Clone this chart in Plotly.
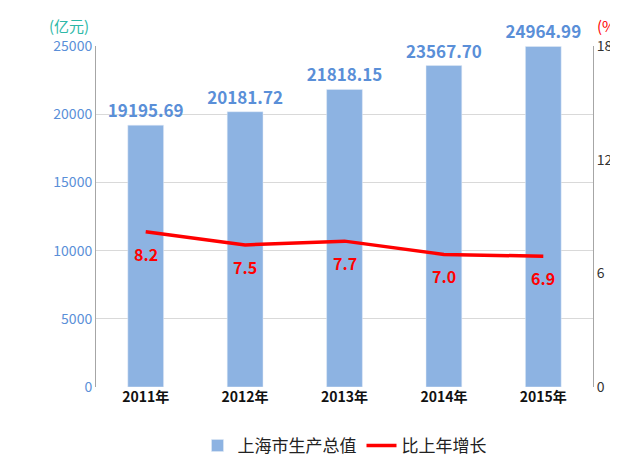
import plotly.graph_objects as go

years = ["2011年", "2012年", "2013年", "2014年", "2015年"]
gdp = [19195.69, 20181.72, 21818.15, 23567.70, 24964.99]
growth = [8.2, 7.5, 7.7, 7.0, 6.9]

FONT = "Noto Sans CJK SC"
BAR_COLOR = "#8DB3E2"
LABEL_BLUE = "#5A8FD8"

fig = go.Figure()

fig.add_trace(go.Bar(x=years, y=gdp, name="上海市生产总值", marker_color=BAR_COLOR,
                     width=0.36, text=[f"{v:.2f}" for v in gdp], textposition="outside",
                     texttemplate="<b>%{text}</b>", constraintext="none",
                     textfont=dict(color=LABEL_BLUE, size=17, family=FONT),
                     cliponaxis=False))

fig.add_trace(go.Scatter(x=years, y=growth, name="比上年增长", yaxis="y2", mode="lines",
                         line=dict(color="#FF0000", width=3.5)))

annotations = [
    dict(text="(亿元)", x=0, xref="paper", xanchor="right", xshift=-5, y=1, yref="paper",
         yanchor="bottom", yshift=8, showarrow=False, font=dict(size=15, color="#2EB8A8")),
    dict(text="(%)", x=1, xref="paper", xanchor="center", xshift=16, y=1, yref="paper",
         yanchor="bottom", yshift=8, showarrow=False, font=dict(size=15, color="#FF0000")),
]
for yr, g in zip(years, growth):
    annotations.append(dict(text=f"<b>{g:.1f}</b>", x=yr, y=g, yref="y2", showarrow=False,
                            yshift=-22, font=dict(size=16, color="#FF0000")))

fig.update_layout(
    width=618, height=468,
    margin=dict(l=88, r=33, t=38, b=71),
    paper_bgcolor="white", plot_bgcolor="white",
    font=dict(family=FONT),
    showlegend=True,
    legend=dict(orientation="h", x=0.5, xanchor="center", y=-0.12, yanchor="top",
                font=dict(size=17, color="#222"), traceorder="normal"),
    xaxis=dict(tickfont=dict(size=14, color="#111"), showline=False, ticks="",
               tickvals=years, ticktext=[f"<b>{y}</b>" for y in years]),
    yaxis=dict(range=[0, 25000], dtick=5000, tickformat="d", gridcolor="#D9D9D9", showline=True,
               linecolor="#A6A6A6", tickfont=dict(size=14, color=LABEL_BLUE), zeroline=False),
    yaxis2=dict(range=[0, 18], dtick=6, overlaying="y", side="right", showgrid=False,
                showline=True, linecolor="#A6A6A6", tickfont=dict(size=14, color="#333"),
                zeroline=False),
    annotations=annotations,
)

fig.write_html("out.html")
